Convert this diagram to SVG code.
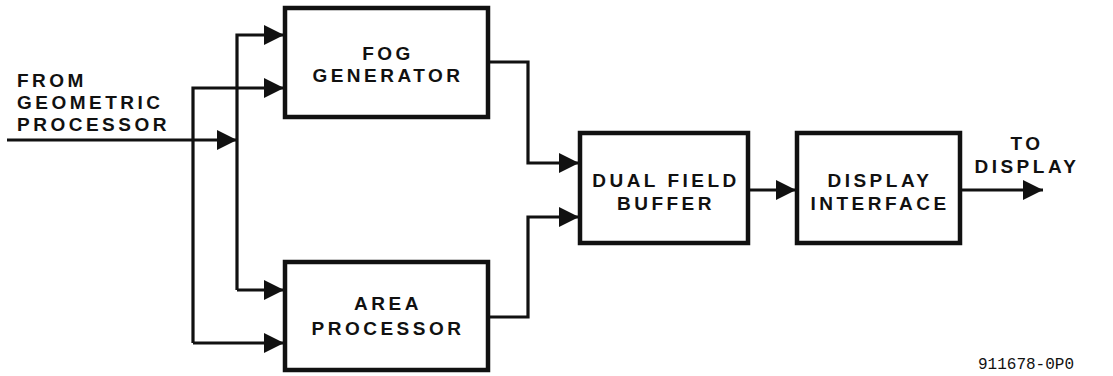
<svg xmlns="http://www.w3.org/2000/svg" width="1113" height="376" viewBox="0 0 1113 376">
<defs>
<marker id="ah" markerUnits="userSpaceOnUse" markerWidth="22" markerHeight="22" refX="20" refY="10" orient="auto">
<path d="M0,0 L20,10 L0,20 z" fill="#111"/>
</marker>
<style>
.box{fill:#fff;stroke:#111;stroke-width:4.5}
.ln{fill:none;stroke:#111;stroke-width:3.2}
.t{font-family:"Liberation Sans",Arial,sans-serif;font-weight:bold;font-size:19px;letter-spacing:3.5px;fill:#111;text-anchor:middle}
.tl{font-family:"Liberation Sans",Arial,sans-serif;font-weight:bold;font-size:19px;letter-spacing:3.5px;fill:#111}
.code{font-family:"Liberation Mono","DejaVu Sans Mono",monospace;font-size:16px;fill:#111;text-anchor:middle}
</style>
</defs>
<rect width="1113" height="376" fill="#fff"/>
<g id="connectors">
<path class="ln" d="M7,140 H237" marker-end="url(#ah)"/>
<path class="ln" d="M237,290 V35 H284" marker-end="url(#ah)"/>
<path class="ln" d="M237,290 H284" marker-end="url(#ah)"/>
<path class="ln" d="M193,343 V88 H284" marker-end="url(#ah)"/>
<path class="ln" d="M193,343 H284" marker-end="url(#ah)"/>
<path class="ln" d="M488,62 H528 V163 H579" marker-end="url(#ah)"/>
<path class="ln" d="M488,317 H528 V217 H579" marker-end="url(#ah)"/>
<path class="ln" d="M748,190 H796" marker-end="url(#ah)"/>
<path class="ln" d="M960,190 H1043" marker-end="url(#ah)"/>
</g>
<g id="input-label">
<text class="tl" x="17" y="87">FROM</text>
<text class="tl" x="17" y="109">GEOMETRIC</text>
<text class="tl" x="17" y="131">PROCESSOR</text>
</g>
<g id="fog">
<rect class="box" x="285" y="8" width="203" height="109"/>
<text class="t" x="388" y="60">FOG</text>
<text class="t" x="388" y="82">GENERATOR</text>
</g>
<g id="area">
<rect class="box" x="285" y="262" width="203" height="108"/>
<text class="t" x="388" y="310">AREA</text>
<text class="t" x="388" y="335">PROCESSOR</text>
</g>
<g id="dual">
<rect class="box" x="580" y="133" width="168" height="110"/>
<text class="t" x="666" y="187">DUAL FIELD</text>
<text class="t" x="666" y="210">BUFFER</text>
</g>
<g id="display">
<rect class="box" x="797" y="133" width="163" height="110"/>
<text class="t" x="880" y="187">DISPLAY</text>
<text class="t" x="880" y="210">INTERFACE</text>
</g>
<g id="output-label">
<text class="t" x="1027" y="150">TO</text>
<text class="t" x="1027" y="173">DISPLAY</text>
</g>
<text class="code" x="1026" y="369">911678-0P0</text>
</svg>
